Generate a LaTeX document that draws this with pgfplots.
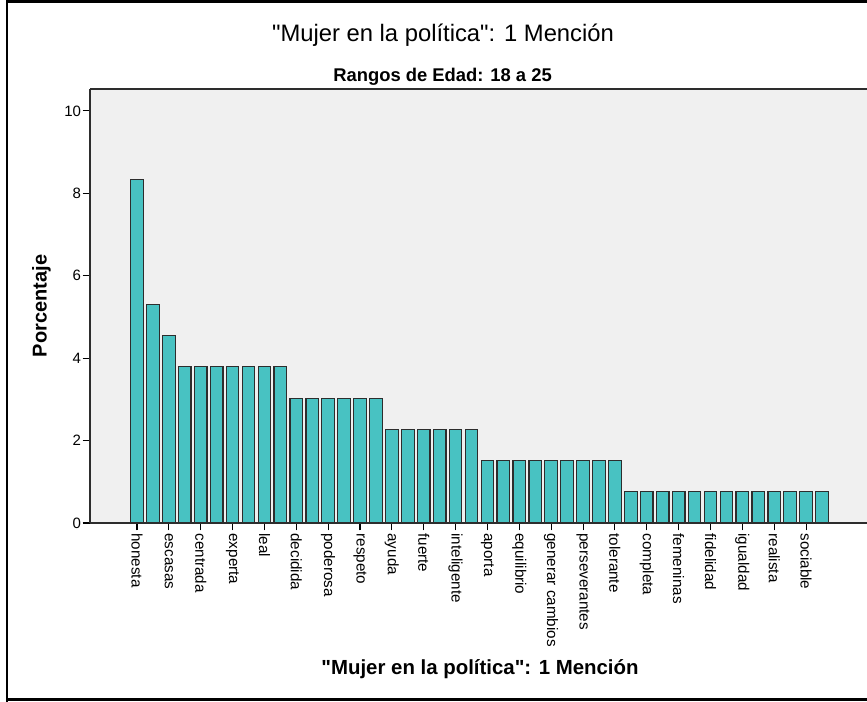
\documentclass[border=0pt]{standalone}
\usepackage{pgfplots}
\pgfplotsset{compat=1.18}
\usepackage{fontspec}
\setmainfont{Liberation Sans}[Ligatures=TeXOff]
\definecolor{barfill}{RGB}{72,194,194}
\definecolor{bggray}{RGB}{240,240,240}
\definecolor{edgegray}{RGB}{45,45,45}
\begin{document}
\begin{tikzpicture}
\useasboundingbox (0pt,0pt) rectangle (650.25pt,526.5pt);
\begin{axis}[
  at={(67.5pt,134.25pt)}, anchor=south west,
  scale only axis,
  width=586.5pt, height=325.5pt,
  xmin=-2.95, xmax=46.14,
  ymin=0, ymax=10.53,
  axis x line*=bottom, axis y line*=left,
  axis line style={edgegray, line width=1.1pt, -},
  axis background/.style={fill=bggray},
  ytick={0,2,4,6,8,10},
  xtick={0,2,...,42},
  xticklabels={honesta,escasas,centrada,experta,leal,decidida,poderosa,respeto,ayuda,fuerte,inteligente,aporta,equilibrio,generar cambios,perseverantes,tolerante,completa,femeninas,fidelidad,igualdad,realista,sociable},
  tick align=outside,
  major tick length=5.5pt,
  tick style={black, line width=0.8pt},
  /pgf/number format/assume math mode=true,
  yticklabel style={font=\fontsize{11.25}{13}\selectfont, inner sep=1pt},
  xticklabel style={font=\fontsize{11.4}{13}\selectfont, rotate=-90, anchor=west, inner sep=2.2pt},
  xlabel={\fontsize{15.3}{17}\selectfont\bfseries "Mujer en la política": 1 Mención},
  xlabel style={at={(axis description cs:0.4987,-0.350)}, anchor=base, inner sep=0pt},
  ylabel={\fontsize{15}{17}\selectfont\bfseries Porcentaje},
  ylabel style={at={(axis description cs:-0.0620,0.5)}, anchor=center, inner sep=0pt},
  clip=false,
]
\addplot[ybar, bar width=0.79, fill=barfill, draw=edgegray, line width=0.9pt]
coordinates {
(0,8.33) (1,5.30) (2,4.55)
(3,3.79) (4,3.79) (5,3.79) (6,3.79) (7,3.79) (8,3.79) (9,3.79)
(10,3.03) (11,3.03) (12,3.03) (13,3.03) (14,3.03) (15,3.03)
(16,2.27) (17,2.27) (18,2.27) (19,2.27) (20,2.27) (21,2.27)
(22,1.52) (23,1.52) (24,1.52) (25,1.52) (26,1.52) (27,1.52) (28,1.52) (29,1.52) (30,1.52)
(31,0.76) (32,0.76) (33,0.76) (34,0.76) (35,0.76) (36,0.76) (37,0.76) (38,0.76) (39,0.76) (40,0.76) (41,0.76) (42,0.76) (43,0.76)
};
\draw[edgegray, line width=1.5pt] (rel axis cs:0,1) -- (rel axis cs:1,1);
\end{axis}
\node[font=\fontsize{17.85}{20}\selectfont, anchor=base, inner sep=0pt] at (332.25pt,495.5pt) {"Mujer en la política": 1 Mención};
\node[font=\fontsize{13.8}{16}\selectfont\bfseries, anchor=base, inner sep=0pt] at (331.9pt,465.2pt) {Rangos de Edad: 18 a 25};
\draw[black, line width=1.9pt] (5.25pt,-20pt) -- (5.25pt,525.375pt) -- (675pt,525.375pt);
\draw[black, line width=1.9pt] (5.25pt,1.875pt) -- (675pt,1.875pt);
\end{tikzpicture}
\end{document}
